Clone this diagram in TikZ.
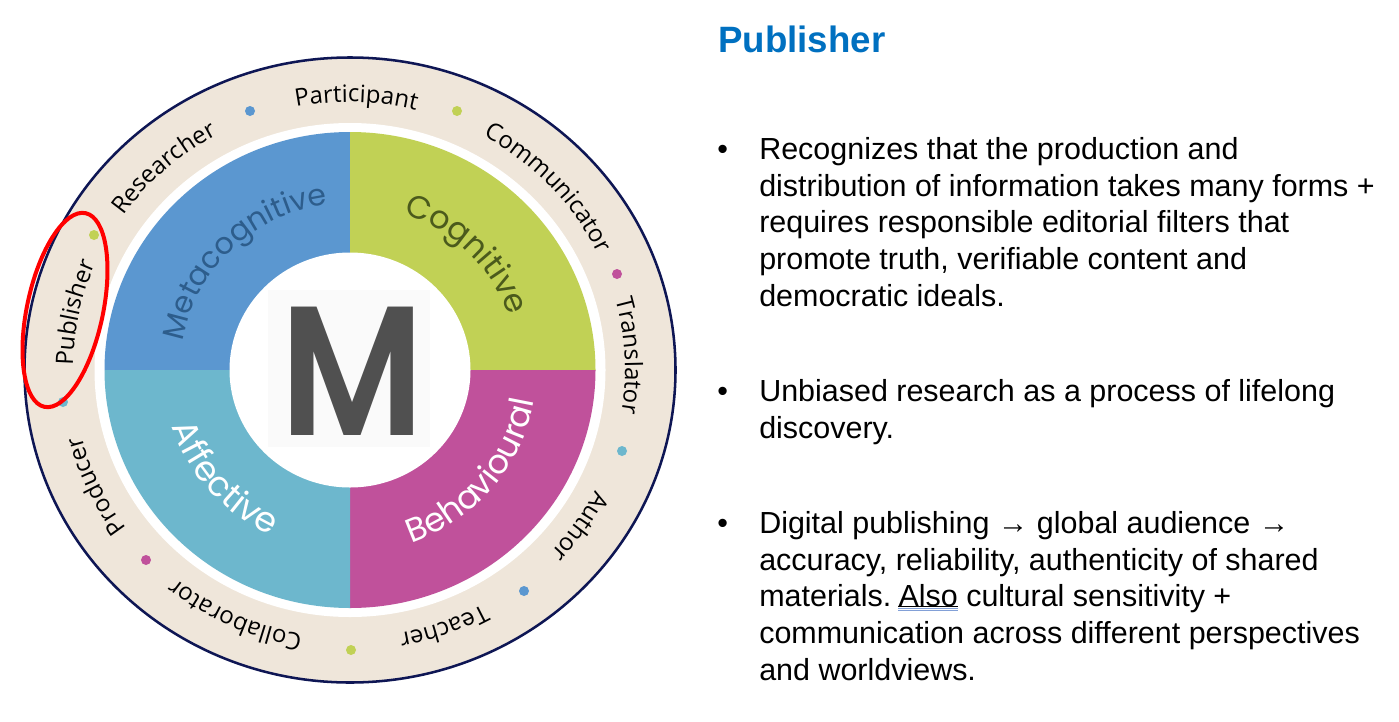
\documentclass[tikz,border=0pt]{standalone}
\usepackage{fontspec}
\usepackage{xcolor}
\usetikzlibrary{decorations.text}
\setmainfont{Liberation Sans}
\newfontfamily\rolefont{Open Sans}
\newfontfamily\domainfont{Poppins}
\newfontfamily\logofont{Poppins SemiBold}
\definecolor{ringbeige}{RGB}{239, 230, 218}
\definecolor{ringnavy}{RGB}{14, 22, 84}
\definecolor{metablue}{RGB}{91, 151, 208}
\definecolor{metatext}{RGB}{45, 93, 140}
\definecolor{cogngreen}{RGB}{193, 209, 85}
\definecolor{cogntext}{RGB}{75, 90, 28}
\definecolor{behavpink}{RGB}{192, 81, 155}
\definecolor{affectteal}{RGB}{109, 183, 205}
\definecolor{logogray}{RGB}{80, 80, 80}
\definecolor{titleblue}{RGB}{0, 112, 192}
\definecolor{spellblue}{RGB}{130, 160, 215}
\tikzset{
    roletext/.style={decorate, decoration={text along path, text align=center,
        text={|\rolefont\fontsize{18}{20}\selectfont|#1}}},
    domaintext/.style n args={3}{decorate, decoration={text along path, text align=center,
        text={|\domainfont\fontsize{#3}{28}\selectfont\color{#2}|#1}}},
    bodytext/.style={anchor=north west, inner sep=0pt, align=left,
        font=\fontsize{22.85}{27.5}\selectfont},
    bulletmark/.style={anchor=north west, inner sep=0pt, text height=16.6pt,
        font=\fontsize{22.85}{27.5}\selectfont},
}
\begin{document}
\begin{tikzpicture}[x=0.75pt, y=-0.75pt]
    \useasboundingbox (0, 0) rectangle (1399, 721);

    % Outer ring
    \coordinate (C) at (350, 370);
    \coordinate (R) at (349, 370);
    \fill[ringbeige] (C) ellipse (325 and 312.5);
    \draw[ringnavy, line width=1.9pt] (C) ellipse (325.5 and 312.5);
    \fill[white] (C) ellipse (255.5 and 247);

    % Quadrants
    \fill[metablue] (C) -- ++(-180:245.5 and 238) arc[start angle=-180, end angle=-90, x radius=245.5, y radius=238] -- cycle;
    \fill[cogngreen] (C) -- ++(-90:245.5 and 238) arc[start angle=-90, end angle=0, x radius=245.5, y radius=238] -- cycle;
    \fill[behavpink] (C) -- ++(0:245.5 and 238) arc[start angle=0, end angle=90, x radius=245.5, y radius=238] -- cycle;
    \fill[affectteal] (C) -- ++(90:245.5 and 238) arc[start angle=90, end angle=180, x radius=245.5, y radius=238] -- cycle;

    % Centre logo
    \fill[white] (C) ellipse (120.5 and 117.5);
    \fill[black!2] (268, 290) rectangle (430, 447);
    \node[font=\logofont\fontsize{138}{138}\selectfont, text=logogray, inner sep=0pt, xscale=0.87] (logoM) at (352, 371) {M};

    % Domain names
    \path[domaintext={Metacognitive}{metatext}{22.5}] (C) ++(-199:170 and 167) arc[start angle=-199, end angle=-69, x radius=170, y radius=167];
    \path[domaintext={Cognitive}{cogntext}{24}] (C) ++(-95:168 and 165) arc[start angle=-95, end angle=5, x radius=168, y radius=165];
    \path[domaintext={Behavioural}{white}{25}] (C) ++(100:187 and 183) arc[start angle=100, end angle=-20, x radius=187, y radius=183];
    \path[domaintext={Affective}{white}{26}] (C) ++(199:187 and 183) arc[start angle=199, end angle=79, x radius=187, y radius=183];

    % Role names on the ring
    \foreach \ang/\role in {-88.5/Participant, -43/Communicator, -3/Translator, 34.5/Author, 70/Teacher,
                            114.5/Collaborator, 155/Producer, 192/Publisher, 228/Researcher} {
        \path[roletext=\role] (R) ++(\ang-40:276 and 268) arc[start angle=\ang-40, end angle=\ang+40, x radius=276, y radius=268];
    }

    % Ring dots
    \foreach \dotx/\doty/\dotcol in {250/111/metablue, 457/111/cogngreen, 617/274/behavpink,
                                     622/451/affectteal, 524/591/metablue, 351/650/cogngreen,
                                     146/560/behavpink, 63/402/affectteal, 94/235/cogngreen} {
        \fill[\dotcol] (\dotx, \doty) circle (5);
    }

    % Highlight on the selected role
    \draw[red, line width=3pt] (65, 310) circle[x radius=99, y radius=38, rotate=78];

    % Right-hand text
    \node[anchor=north west, inner sep=0pt, text=titleblue, font=\bfseries\fontsize{27.5}{30}\selectfont] (title) at (718, 26) {Publisher};
    \node[bulletmark] (bulletA) at (717, 137) {•};
    \node[bodytext] (pointA) at (759, 137) {Recognizes that the production and\\
        distribution of information takes many forms +\\
        requires responsible editorial filters that\\
        promote truth, verifiable content and\\
        democratic ideals.};
    \node[bulletmark] (bulletB) at (717, 379) {•};
    \node[bodytext] (pointB) at (759, 379) {Unbiased research as a process of lifelong\\
        discovery.};
    \node[bulletmark] (bulletC) at (717, 511) {•};
    \node[bodytext] (pointC) at (759, 511) {Digital publishing → global audience →\\
        accuracy, reliability, authenticity of shared\\
        materials.\kern-3pt{} Also cultural sensitivity +\\
        communication across different perspectives\\
        and worldviews.};

    % Spelling underline
    \draw[black, line width=0.75pt] (898, 606.5) -- (958, 606.5);
    \draw[spellblue, line width=0.6pt] (898, 608.5) -- (958, 608.5);
    \draw[spellblue, line width=0.6pt] (898, 610.5) -- (958, 610.5);
\end{tikzpicture}
\end{document}
